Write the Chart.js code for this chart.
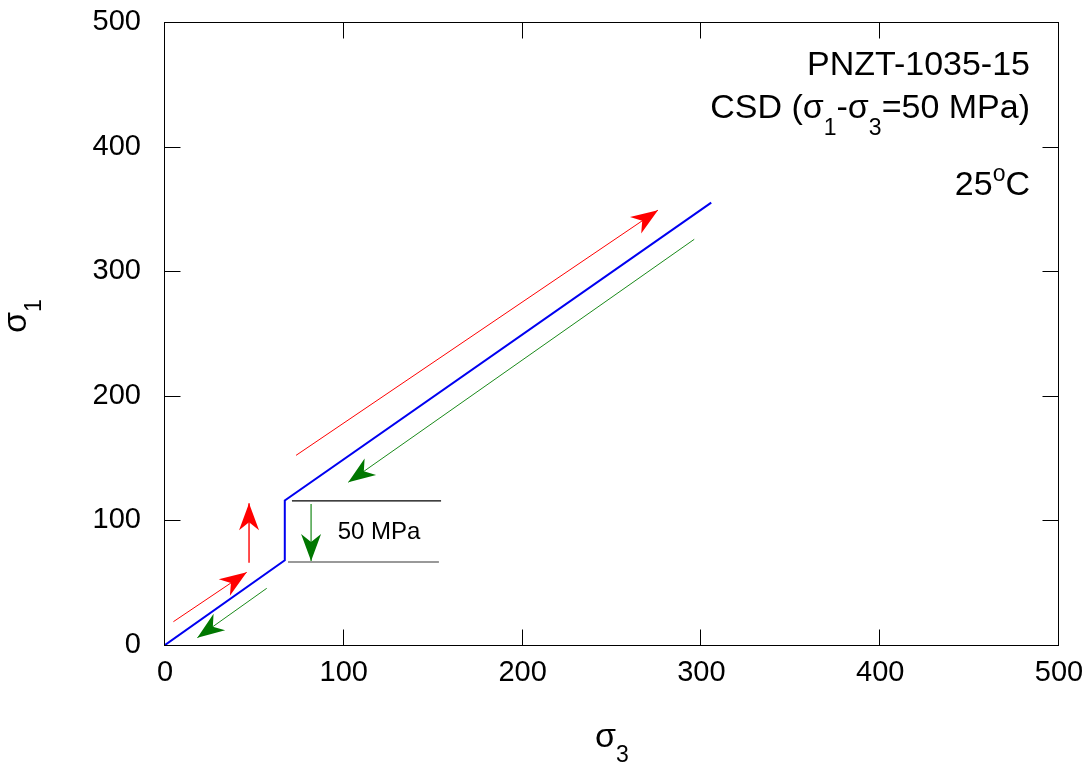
<!DOCTYPE html>
<html>
<head>
<meta charset="utf-8">
<script src="https://cdn.jsdelivr.net/npm/chart.js@4/dist/chart.umd.min.js"></script>
<style>
  body { margin: 0; background: #fff; }
  canvas { display: block; }
</style>
</head>
<body>
<canvas id="stressChart" width="1088" height="766"></canvas>
<script>
// values
const axisTicks = [0, 100, 200, 300, 400, 500];
const sigma3Path = [0, 67, 67, 305.5];
const sigma1Path = [0, 68, 116, 355];

// arrows: [x0, y0, x1(tip), y1(tip)]
const redArrows = [
	[4.7, 18.7, 45.7, 58.3],
	[47, 66, 47, 113.7],
	[73.3, 152.2, 275.7, 349]
];
const greenArrows = [
	[296, 325.6, 102.5, 130.6],
	[56.9, 45.5, 18.1, 5.9],
	[81.7, 113.2, 81.7, 67.4]
];

// the two levels that mark the 50 MPa step
const stepLevelY = [115.6, 66.6];
const stepLevelX = [[71, 154.4], [68.8, 153.2]];
const stepLabel = '50 MPa';

const FONT = '"Liberation Sans", Arial, sans-serif';

function toPoints(xs, ys) {
	return xs.map((x, i) => ({ x: x, y: ys[i] }));
}

function arrowDataset(a, color, headColor, width) {
	return {
		data: [{ x: a[0], y: a[1] }, { x: a[2], y: a[3] }],
		borderColor: color,
		borderWidth: width,
		pointRadius: 0,
		showLine: true,
		arrowColor: headColor
	};
}

const datasets = [];
datasets.push({
	data: toPoints(sigma3Path, sigma1Path),
	borderColor: '#0000f0',
	borderWidth: 2,
	pointRadius: 0,
	showLine: true
});
redArrows.forEach(a => datasets.push(arrowDataset(a, '#ff0000', '#ff0000', a[0] === a[2] ? 1.4 : 1)));
greenArrows.forEach(a => datasets.push(arrowDataset(a, '#1a8a1a', '#007700', a[0] === a[2] ? 1.2 : 1)));
datasets.push({
	data: [{ x: stepLevelX[0][0], y: stepLevelY[0] }, { x: stepLevelX[0][1], y: stepLevelY[0] }],
	borderColor: '#000', borderWidth: 1.2, pointRadius: 0, showLine: true
});
datasets.push({
	data: [{ x: stepLevelX[1][0], y: stepLevelY[1] }, { x: stepLevelX[1][1], y: stepLevelY[1] }],
	borderColor: '#777', borderWidth: 1.5, pointRadius: 0, showLine: true
});

// draw text made of pieces (sub/superscripts)
function drawRich(ctx, parts, x, y, align) {
	let total = 0;
	parts.forEach(p => {
		ctx.font = p.size + 'px ' + FONT;
		total += ctx.measureText(p.text).width;
	});
	let cx = align === 'right' ? x - total : (align === 'center' ? x - total / 2 : x);
	ctx.textAlign = 'left';
	ctx.textBaseline = 'alphabetic';
	parts.forEach(p => {
		ctx.font = p.size + 'px ' + FONT;
		ctx.fillText(p.text, cx, y + (p.dy || 0));
		cx += ctx.measureText(p.text).width;
	});
}

const decorations = {
	id: 'decorations',
	afterDatasetsDraw(chart) {
		const ctx = chart.ctx;
		const xs = chart.scales.x, ys = chart.scales.y;
		// arrow heads
		chart.data.datasets.forEach(ds => {
			if (!ds.arrowColor) return;
			const p0 = ds.data[0], p1 = ds.data[1];
			const x0 = xs.getPixelForValue(p0.x), y0 = ys.getPixelForValue(p0.y);
			const x1 = xs.getPixelForValue(p1.x), y1 = ys.getPixelForValue(p1.y);
			const ang = Math.atan2(y1 - y0, x1 - x0);
			const L = 27, W = 10, N = 19;
			ctx.save();
			ctx.translate(x1, y1);
			ctx.rotate(ang);
			ctx.beginPath();
			ctx.moveTo(0, 0);
			ctx.lineTo(-L, -W);
			ctx.lineTo(-N, 0);
			ctx.lineTo(-L, W);
			ctx.closePath();
			ctx.fillStyle = ds.arrowColor;
			ctx.fill();
			ctx.restore();
		});
		// step label
		ctx.save();
		ctx.fillStyle = '#000';
		const lx = xs.getPixelForValue((stepLevelX[0][0] + stepLevelX[0][1]) / 2 + 7);
		const ly = (ys.getPixelForValue(stepLevelY[0]) + ys.getPixelForValue(stepLevelY[1])) / 2;
		ctx.font = '24px ' + FONT;
		ctx.textAlign = 'center';
		ctx.textBaseline = 'middle';
		ctx.fillText(stepLabel, lx, ly + 1);
		ctx.restore();
	},
	afterDraw(chart) {
		const ctx = chart.ctx;
		const a = chart.chartArea;
		const xs = chart.scales.x, ys = chart.scales.y;
		ctx.save();
		// frame
		ctx.strokeStyle = '#000';
		ctx.lineWidth = 1;
		const L = Math.round(a.left) - 0.5, R = Math.round(a.right) - 0.5;
		const T = Math.round(a.top) + 0.5, B = Math.round(a.bottom) + 0.5;
		ctx.strokeRect(L, T, R - L, B - T);
		// inward ticks on all sides
		const tl = 16;
		ctx.beginPath();
		axisTicks.forEach(v => {
			const px = Math.round(xs.getPixelForValue(v)) - 0.5;
			ctx.moveTo(px, B); ctx.lineTo(px, B - tl);
			ctx.moveTo(px, T); ctx.lineTo(px, T + tl);
			const py = Math.round(ys.getPixelForValue(v)) + 0.5;
			ctx.moveTo(L, py); ctx.lineTo(L + tl, py);
			ctx.moveTo(R, py); ctx.lineTo(R - tl, py);
		});
		ctx.stroke();

		ctx.fillStyle = '#000';
		// annotation text, top right
		const tx = a.right - 29;
		drawRich(ctx, [{ text: 'PNZT-1035-15', size: 34 }], tx, 75, 'right');
		drawRich(ctx, [
			{ text: 'CSD (σ', size: 34 },
			{ text: '1', size: 23, dy: 17 },
			{ text: '-σ', size: 34 },
			{ text: '3', size: 23, dy: 17 },
			{ text: '=50 MPa)', size: 34 }
		], tx, 118, 'right');
		drawRich(ctx, [
			{ text: '25', size: 34 },
			{ text: 'o', size: 23, dy: -14 },
			{ text: 'C', size: 34 }
		], tx, 195, 'right');

		// x axis title
		drawRich(ctx, [
			{ text: 'σ', size: 34 },
			{ text: '3', size: 23, dy: 15 }
		], 595, 747, 'left');

		// y axis title (rotated)
		ctx.save();
		ctx.translate(26, 333);
		ctx.rotate(-Math.PI / 2);
		drawRich(ctx, [
			{ text: 'σ', size: 34 },
			{ text: '1', size: 23, dy: 15 }
		], 0, 0, 'left');
		ctx.restore();
		ctx.restore();
	}
};

function noScalePadding(s) {
	s.paddingTop = 0;
	s.paddingBottom = 0;
	s.paddingLeft = 0;
	s.paddingRight = 0;
}

const axisOpts = {
	type: 'linear',
	min: 0,
	max: 500,
	grid: { display: false, drawTicks: false },
	border: { display: false },
	afterBuildTicks: s => { s.ticks = axisTicks.map(v => ({ value: v })); }
};

new Chart(document.getElementById('stressChart'), {
	type: 'scatter',
	data: { datasets: datasets },
	options: {
		responsive: false,
		animation: false,
		devicePixelRatio: 1,
		layout: { padding: { top: 22, right: 29, left: 0, bottom: 0 } },
		plugins: { legend: { display: false }, tooltip: { enabled: false } },
		scales: {
			x: Object.assign({}, axisOpts, {
				ticks: { font: { size: 29, family: FONT }, color: '#000', padding: 11, maxRotation: 0 },
				afterFit: s => { s.height = 121; noScalePadding(s); }
			}),
			y: Object.assign({}, axisOpts, {
				ticks: { font: { size: 29, family: FONT }, color: '#000', padding: 24 },
				afterFit: s => { s.width = 165; noScalePadding(s); }
			})
		}
	},
	plugins: [decorations]
});
</script>
</body>
</html>
